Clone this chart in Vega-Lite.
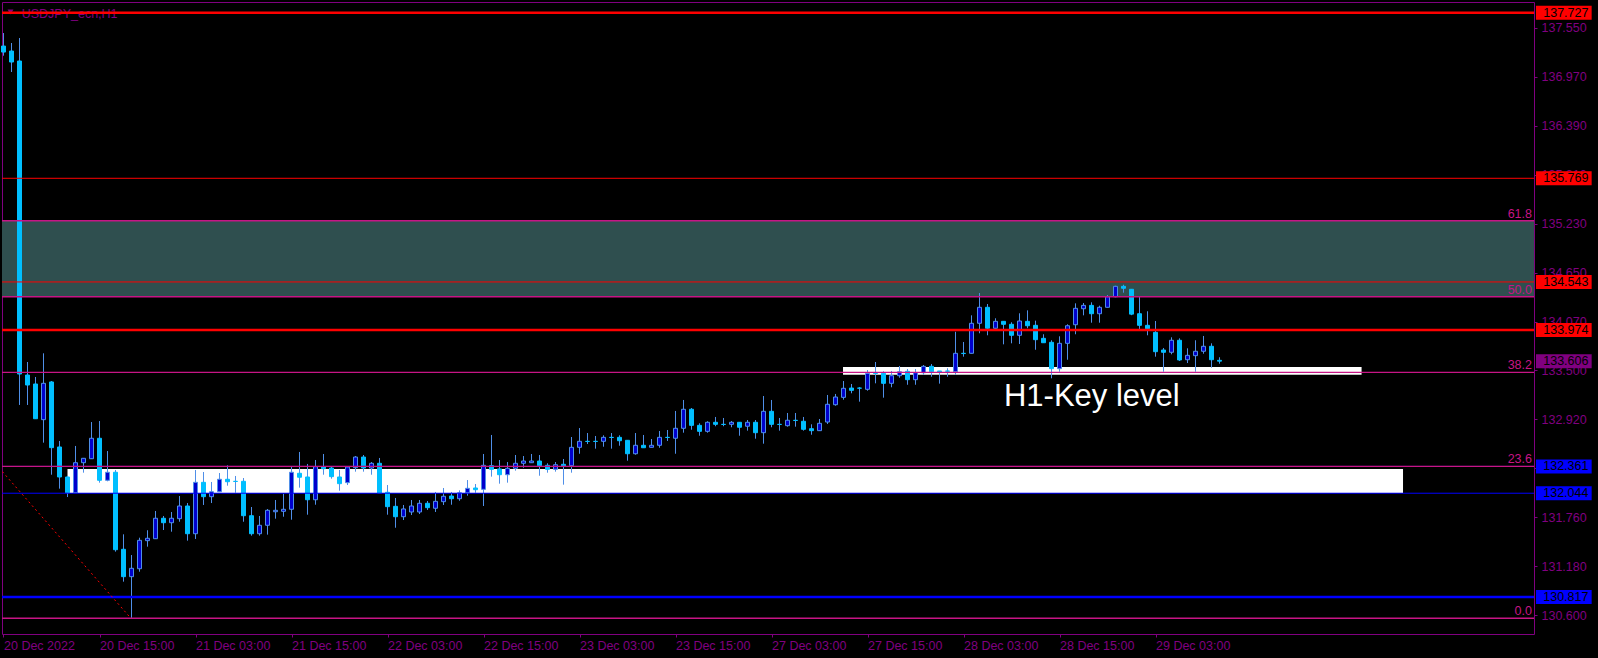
{
"$schema": "https://vega.github.io/schema/vega-lite/v6.json",
"width": 1532, "height": 632,
"autosize": {"type": "none"},
"padding": {"left": 2, "top": 2, "right": 64, "bottom": 24},
"background": "#000000",
"config": {"view": {"stroke": "#800080", "strokeWidth": 1, "fill": "#000000"}, "font": "Liberation Sans", "scale": {"continuousPadding": 0}},
"datasets": {
"candles": [
{"i":0,"o":137.333,"h":137.487,"l":137.219,"c":137.262},
{"i":1,"o":137.274,"h":137.369,"l":137.026,"c":137.144},
{"i":2,"o":137.156,"h":137.428,"l":133.088,"c":133.454},
{"i":3,"o":133.442,"h":133.596,"l":133.088,"c":133.324},
{"i":4,"o":133.336,"h":133.419,"l":132.922,"c":132.925},
{"i":5,"o":132.914,"h":133.699,"l":132.642,"c":133.344},
{"i":6,"o":133.360,"h":133.371,"l":132.263,"c":132.583},
{"i":7,"o":132.591,"h":132.662,"l":132.098,"c":132.236},
{"i":8,"o":132.236,"h":132.248,"l":131.999,"c":132.050},
{"i":9,"o":132.050,"h":132.603,"l":132.047,"c":132.405},
{"i":10,"o":132.405,"h":132.461,"l":132.287,"c":132.457},
{"i":11,"o":132.452,"h":132.886,"l":132.449,"c":132.694},
{"i":12,"o":132.694,"h":132.898,"l":132.169,"c":132.197},
{"i":13,"o":132.197,"h":132.543,"l":132.185,"c":132.292},
{"i":14,"o":132.292,"h":132.319,"l":131.353,"c":131.376},
{"i":15,"o":131.381,"h":131.558,"l":130.998,"c":131.057},
{"i":16,"o":131.057,"h":131.313,"l":130.570,"c":131.156},
{"i":17,"o":131.151,"h":131.518,"l":131.116,"c":131.487},
{"i":18,"o":131.483,"h":131.606,"l":131.412,"c":131.511},
{"i":19,"o":131.506,"h":131.834,"l":131.503,"c":131.748},
{"i":20,"o":131.748,"h":131.775,"l":131.609,"c":131.695},
{"i":21,"o":131.695,"h":131.822,"l":131.589,"c":131.748},
{"i":22,"o":131.743,"h":132.011,"l":131.707,"c":131.893},
{"i":23,"o":131.893,"h":131.928,"l":131.483,"c":131.565},
{"i":24,"o":131.565,"h":132.319,"l":131.503,"c":132.173},
{"i":25,"o":132.173,"h":132.295,"l":131.905,"c":132.003},
{"i":26,"o":132.003,"h":132.177,"l":131.928,"c":132.062},
{"i":27,"o":132.062,"h":132.283,"l":132.059,"c":132.209},
{"i":28,"o":132.209,"h":132.374,"l":132.133,"c":132.180},
{"i":29,"o":132.185,"h":132.248,"l":132.050,"c":132.183},
{"i":30,"o":132.185,"h":132.224,"l":131.707,"c":131.778},
{"i":31,"o":131.778,"h":131.881,"l":131.542,"c":131.565},
{"i":32,"o":131.565,"h":131.775,"l":131.542,"c":131.665},
{"i":33,"o":131.665,"h":131.857,"l":131.554,"c":131.842},
{"i":34,"o":131.825,"h":131.964,"l":131.743,"c":131.842},
{"i":35,"o":131.830,"h":132.038,"l":131.766,"c":131.854},
{"i":36,"o":131.854,"h":132.358,"l":131.731,"c":132.292},
{"i":37,"o":132.280,"h":132.532,"l":132.110,"c":132.233},
{"i":38,"o":132.236,"h":132.390,"l":131.790,"c":131.967},
{"i":39,"o":131.967,"h":132.437,"l":131.908,"c":132.358},
{"i":40,"o":132.358,"h":132.508,"l":132.263,"c":132.334},
{"i":41,"o":132.342,"h":132.362,"l":132.216,"c":132.240},
{"i":42,"o":132.236,"h":132.319,"l":132.074,"c":132.157},
{"i":43,"o":132.169,"h":132.354,"l":132.141,"c":132.354},
{"i":44,"o":132.346,"h":132.484,"l":132.299,"c":132.472},
{"i":45,"o":132.472,"h":132.496,"l":132.299,"c":132.342},
{"i":46,"o":132.342,"h":132.413,"l":132.263,"c":132.398},
{"i":47,"o":132.398,"h":132.461,"l":132.047,"c":132.047},
{"i":48,"o":132.055,"h":132.141,"l":131.790,"c":131.885},
{"i":49,"o":131.889,"h":131.988,"l":131.636,"c":131.766},
{"i":50,"o":131.766,"h":131.905,"l":131.727,"c":131.858},
{"i":51,"o":131.822,"h":131.964,"l":131.786,"c":131.893},
{"i":52,"o":131.822,"h":131.964,"l":131.798,"c":131.925},
{"i":53,"o":131.925,"h":131.952,"l":131.846,"c":131.873},
{"i":54,"o":131.866,"h":132.059,"l":131.822,"c":131.948},
{"i":55,"o":131.944,"h":132.106,"l":131.905,"c":132.008},
{"i":56,"o":132.011,"h":132.059,"l":131.908,"c":131.979},
{"i":57,"o":131.979,"h":132.078,"l":131.955,"c":132.050},
{"i":58,"o":132.050,"h":132.200,"l":132.015,"c":132.102},
{"i":59,"o":132.106,"h":132.153,"l":132.050,"c":132.086},
{"i":60,"o":132.090,"h":132.508,"l":131.893,"c":132.374},
{"i":61,"o":132.370,"h":132.733,"l":132.240,"c":132.327},
{"i":62,"o":132.331,"h":132.437,"l":132.157,"c":132.263},
{"i":63,"o":132.263,"h":132.413,"l":132.169,"c":132.339},
{"i":64,"o":132.339,"h":132.496,"l":132.311,"c":132.398},
{"i":65,"o":132.398,"h":132.484,"l":132.346,"c":132.425},
{"i":66,"o":132.405,"h":132.508,"l":132.402,"c":132.425},
{"i":67,"o":132.425,"h":132.496,"l":132.251,"c":132.370},
{"i":68,"o":132.374,"h":132.398,"l":132.287,"c":132.327},
{"i":69,"o":132.327,"h":132.413,"l":132.299,"c":132.381},
{"i":70,"o":132.386,"h":132.449,"l":132.145,"c":132.366},
{"i":71,"o":132.370,"h":132.709,"l":132.287,"c":132.587},
{"i":72,"o":132.587,"h":132.815,"l":132.511,"c":132.658},
{"i":73,"o":132.658,"h":132.756,"l":132.626,"c":132.656},
{"i":74,"o":132.658,"h":132.721,"l":132.571,"c":132.656},
{"i":75,"o":132.658,"h":132.729,"l":132.594,"c":132.705},
{"i":76,"o":132.705,"h":132.756,"l":132.571,"c":132.703},
{"i":77,"o":132.705,"h":132.729,"l":132.606,"c":132.665},
{"i":78,"o":132.670,"h":132.673,"l":132.429,"c":132.511},
{"i":79,"o":132.511,"h":132.756,"l":132.500,"c":132.611},
{"i":80,"o":132.611,"h":132.733,"l":132.582,"c":132.582},
{"i":81,"o":132.587,"h":132.685,"l":132.585,"c":132.611},
{"i":82,"o":132.611,"h":132.780,"l":132.582,"c":132.705},
{"i":83,"o":132.705,"h":132.792,"l":132.662,"c":132.703},
{"i":84,"o":132.694,"h":133.017,"l":132.511,"c":132.812},
{"i":85,"o":132.812,"h":133.147,"l":132.760,"c":133.037},
{"i":86,"o":133.037,"h":133.052,"l":132.795,"c":132.847},
{"i":87,"o":132.847,"h":132.871,"l":132.724,"c":132.776},
{"i":88,"o":132.776,"h":132.895,"l":132.760,"c":132.883},
{"i":89,"o":132.883,"h":132.946,"l":132.836,"c":132.859},
{"i":90,"o":132.859,"h":132.934,"l":132.836,"c":132.857},
{"i":91,"o":132.859,"h":132.898,"l":132.824,"c":132.883},
{"i":92,"o":132.883,"h":132.886,"l":132.724,"c":132.824},
{"i":93,"o":132.836,"h":132.910,"l":132.784,"c":132.883},
{"i":94,"o":132.883,"h":132.910,"l":132.689,"c":132.760},
{"i":95,"o":132.760,"h":133.194,"l":132.630,"c":133.013},
{"i":96,"o":133.013,"h":133.147,"l":132.824,"c":132.859},
{"i":97,"o":132.859,"h":132.934,"l":132.784,"c":132.857},
{"i":98,"o":132.843,"h":132.993,"l":132.831,"c":132.907},
{"i":99,"o":132.907,"h":132.993,"l":132.831,"c":132.904},
{"i":100,"o":132.895,"h":132.946,"l":132.784,"c":132.800},
{"i":101,"o":132.807,"h":132.859,"l":132.736,"c":132.784},
{"i":102,"o":132.784,"h":132.922,"l":132.780,"c":132.871},
{"i":103,"o":132.886,"h":133.206,"l":132.863,"c":133.096},
{"i":104,"o":133.091,"h":133.218,"l":133.079,"c":133.182},
{"i":105,"o":133.178,"h":133.371,"l":133.150,"c":133.285},
{"i":106,"o":133.288,"h":133.336,"l":133.226,"c":133.261},
{"i":107,"o":133.288,"h":133.300,"l":133.127,"c":133.286},
{"i":108,"o":133.273,"h":133.501,"l":133.257,"c":133.462},
{"i":109,"o":133.462,"h":133.596,"l":133.344,"c":133.460},
{"i":110,"o":133.462,"h":133.486,"l":133.174,"c":133.344},
{"i":111,"o":133.344,"h":133.490,"l":133.297,"c":133.434},
{"i":112,"o":133.434,"h":133.549,"l":133.410,"c":133.481},
{"i":113,"o":133.486,"h":133.513,"l":133.327,"c":133.387},
{"i":114,"o":133.387,"h":133.513,"l":133.327,"c":133.469},
{"i":115,"o":133.469,"h":133.560,"l":133.446,"c":133.545},
{"i":116,"o":133.545,"h":133.572,"l":133.422,"c":133.481},
{"i":117,"o":133.490,"h":133.490,"l":133.340,"c":133.481},
{"i":118,"o":133.490,"h":133.522,"l":133.422,"c":133.487},
{"i":119,"o":133.481,"h":133.954,"l":133.446,"c":133.699},
{"i":120,"o":133.699,"h":133.833,"l":133.659,"c":133.696},
{"i":121,"o":133.699,"h":134.148,"l":133.696,"c":134.054},
{"i":122,"o":134.054,"h":134.412,"l":133.936,"c":134.243},
{"i":123,"o":134.243,"h":134.282,"l":133.912,"c":133.995},
{"i":124,"o":133.995,"h":134.113,"l":133.992,"c":134.077},
{"i":125,"o":134.077,"h":134.081,"l":133.805,"c":134.042},
{"i":126,"o":134.042,"h":134.066,"l":133.817,"c":133.912},
{"i":127,"o":133.912,"h":134.172,"l":133.809,"c":134.081},
{"i":128,"o":134.077,"h":134.207,"l":133.995,"c":134.025},
{"i":129,"o":134.030,"h":134.085,"l":133.741,"c":133.860},
{"i":130,"o":133.876,"h":133.924,"l":133.824,"c":133.824},
{"i":131,"o":133.829,"h":133.853,"l":133.403,"c":133.517},
{"i":132,"o":133.517,"h":133.900,"l":133.481,"c":133.817},
{"i":133,"o":133.817,"h":134.042,"l":133.623,"c":134.025},
{"i":134,"o":134.037,"h":134.290,"l":133.924,"c":134.231},
{"i":135,"o":134.226,"h":134.294,"l":134.148,"c":134.266},
{"i":136,"o":134.266,"h":134.302,"l":134.061,"c":134.167},
{"i":137,"o":134.167,"h":134.262,"l":134.061,"c":134.243},
{"i":138,"o":134.243,"h":134.388,"l":134.241,"c":134.368},
{"i":139,"o":134.368,"h":134.498,"l":134.361,"c":134.491},
{"i":140,"o":134.491,"h":134.510,"l":134.416,"c":134.468},
{"i":141,"o":134.456,"h":134.460,"l":134.150,"c":134.162},
{"i":142,"o":134.167,"h":134.365,"l":133.983,"c":134.030},
{"i":143,"o":134.030,"h":134.196,"l":133.912,"c":133.990},
{"i":144,"o":133.947,"h":134.081,"l":133.659,"c":133.718},
{"i":145,"o":133.738,"h":133.762,"l":133.481,"c":133.711},
{"i":146,"o":133.711,"h":133.888,"l":133.687,"c":133.853},
{"i":147,"o":133.853,"h":133.876,"l":133.608,"c":133.620},
{"i":148,"o":133.623,"h":133.758,"l":133.584,"c":133.675},
{"i":149,"o":133.671,"h":133.853,"l":133.481,"c":133.723},
{"i":150,"o":133.723,"h":133.904,"l":133.694,"c":133.782},
{"i":151,"o":133.782,"h":133.817,"l":133.529,"c":133.623},
{"i":152,"o":133.616,"h":133.652,"l":133.576,"c":133.606}
],
"levels": [
{"price":137.727,"kind":"resistance","weight":"major"},
{"price":135.769,"kind":"resistance","weight":"minor"},
{"price":134.543,"kind":"resistance","weight":"minor"},
{"price":133.974,"kind":"resistance","weight":"major"},
{"price":133.606,"kind":"bid","weight":"minor"},
{"price":132.361,"kind":"support","weight":"minor"},
{"price":132.044,"kind":"support","weight":"minor"},
{"price":130.817,"kind":"support","weight":"major"}
],
"fib": [
{"level":"61.8","price":135.267},
{"level":"50.0","price":134.368},
{"level":"38.2","price":133.474},
{"level":"23.6","price":132.362},
{"level":"0.0","price":130.565}
],
"fibzone": [{"top":135.267,"bottom":134.368}],
"fibbase": [{"i":-54.51,"p":138.171},{"i":15.92,"p":130.565}],
"zones": [
{"start":8.0,"end":174.94,"top":132.331,"bottom":132.047},
{"start":104.94,"end":169.76,"top":133.537,"bottom":133.446}
],
"notes": [{"label":"H1-Key level"}],
"symbol": [{"label":"USDJPY_ecn,H1"}]
},
"layer": [
{"data":{"name":"fibzone"},"mark":{"type":"rect","color":"#2F4F4F"},
 "encoding":{"x":{"datum":-0.1875,"type":"quantitative","scale":{"domain":[-0.1875,191.3125],"nice":false,"zero":false,"padding":0}},
 "x2":{"datum":191.3125},
 "y":{"field":"top","type":"quantitative","scale":{"domain":[130.379,137.854],"nice":false,"zero":false,"padding":0}},
 "y2":{"field":"bottom"}}},
{"data":{"name":"zones"},"mark":{"type":"rect","color":"#FFFFFF"},
 "encoding":{"x":{"field":"start","type":"quantitative"},"x2":{"field":"end"},
 "y":{"field":"top","type":"quantitative"},"y2":{"field":"bottom"}}},
{"data":{"name":"symbol"},"mark":{"type":"text","align":"left","baseline":"alphabetic","fontSize":12.5,"color":"#800080","font":"Liberation Sans"},
 "encoding":{"x":{"datum":2.275,"type":"quantitative"},"y":{"datum":137.664,"type":"quantitative"},"text":{"field":"label"}}},
{"data":{"name":"symbol"},"mark":{"type":"point","shape":"triangle-down","filled":true,"color":"#800080","size":35,"opacity":1},
 "encoding":{"x":{"datum":0.875,"type":"quantitative"},"y":{"datum":137.735,"type":"quantitative"}}},
{"data":{"name":"candles"},"mark":{"type":"rule","color":"#4F8FE8","strokeWidth":1},
 "encoding":{
 "x":{"field":"i","type":"quantitative","scale":{"domain":[-0.1875,191.3125],"nice":false,"zero":false,"padding":0},
  "axis":{"orient":"bottom","title":null,"values":[0,12,24,36,48,60,72,84,96,108,120,132,144],
   "labelExpr":"['20 Dec 2022','20 Dec 15:00','21 Dec 03:00','21 Dec 15:00','22 Dec 03:00','22 Dec 15:00','23 Dec 03:00','23 Dec 15:00','27 Dec 03:00','27 Dec 15:00','28 Dec 03:00','28 Dec 15:00','29 Dec 03:00'][round(datum.value/12)]",
   "labelAlign":"left","labelBaseline":"top","labelColor":"#800080","labelFont":"Liberation Sans","labelFontSize":12.5,"labelPadding":2,
   "labelFlush":false,"labelOverlap":false,"tickColor":"#800080","tickSize":3,"domain":false,"grid":false}},
 "y":{"field":"l","type":"quantitative","scale":{"domain":[130.379,137.854],"nice":false,"zero":false,"padding":0},
  "axis":{"orient":"right","title":null,"values":[130.6,131.18,131.76,132.34,132.92,133.5,134.07,134.65,135.23,135.81,136.39,136.97,137.55],
   "format":".3f","labelColor":"#800080","labelFont":"Liberation Sans","labelFontSize":12.5,"labelPadding":4,"labelBaseline":"middle",
   "labelFlush":false,"labelOverlap":false,"tickColor":"#800080","tickSize":3,"domain":false,"grid":false}},
 "y2":{"field":"h"}}},
{"data":{"name":"candles"},"mark":{"type":"bar","strokeWidth":1},
 "encoding":{"x":{"field":"i","type":"quantitative"},
 "y":{"field":"o","type":"quantitative"},"y2":{"field":"c"},
 "size":{"value":4},
 "fill":{"condition":{"test":"datum.c >= datum.o","value":"#0000CD"},"value":"#00BFFF"},
 "stroke":{"condition":{"test":"datum.c >= datum.o","value":"#4F8FE8"},"value":"#00BFFF"}}},
{"data":{"name":"levels"},"transform":[{"filter":"datum.kind != 'bid'"}],"mark":{"type":"rule"},
 "encoding":{"y":{"field":"price","type":"quantitative"},
 "color":{"field":"kind","type":"nominal","scale":{"domain":["resistance","support","bid"],"range":["#FF0000","#0000FF","#800080"]},"legend":null},
 "strokeWidth":{"field":"weight","type":"nominal","scale":{"domain":["major","minor"],"range":[2.6,1]},"legend":null}}},
{"data":{"name":"fib"},"mark":{"type":"rule","color":"#C71585","strokeWidth":1.3},
 "encoding":{"y":{"field":"price","type":"quantitative"}}},
{"data":{"name":"fibbase"},"mark":{"type":"line","color":"#FF0000","strokeWidth":1,"strokeDash":[2,3],"clip":true},
 "encoding":{"x":{"field":"i","type":"quantitative"},"y":{"field":"p","type":"quantitative"}}},
{"data":{"name":"notes"},"mark":{"type":"text","align":"left","baseline":"alphabetic","fontSize":31,"color":"#FFFFFF","font":"Liberation Sans"},
 "encoding":{"x":{"datum":125.06,"type":"quantitative"},"y":{"datum":133.079,"type":"quantitative"},"text":{"field":"label"}}},
{"data":{"name":"fib"},"mark":{"type":"text","align":"right","baseline":"alphabetic","fontSize":12.5,"color":"#C71585","font":"Liberation Sans","dx":-2,"dy":-3},
 "encoding":{"x":{"value":"width"},"y":{"field":"price","type":"quantitative"},"text":{"field":"level"}}},
{"data":{"name":"levels"},"mark":{"type":"bar"},
 "encoding":{"x":{"datum":191.56,"type":"quantitative"},"x2":{"datum":198.52},
 "y":{"field":"price","type":"quantitative"},
 "size":{"value":14},
 "color":{"field":"kind","type":"nominal","legend":null}}},
{"data":{"name":"levels"},"mark":{"type":"text","align":"left","baseline":"middle","fontSize":12.5,"color":"#000000","font":"Liberation Sans"},
 "encoding":{"x":{"datum":192.47,"type":"quantitative"},"y":{"field":"price","type":"quantitative"},
 "text":{"field":"price","type":"quantitative","format":".3f"}}}
]
}
